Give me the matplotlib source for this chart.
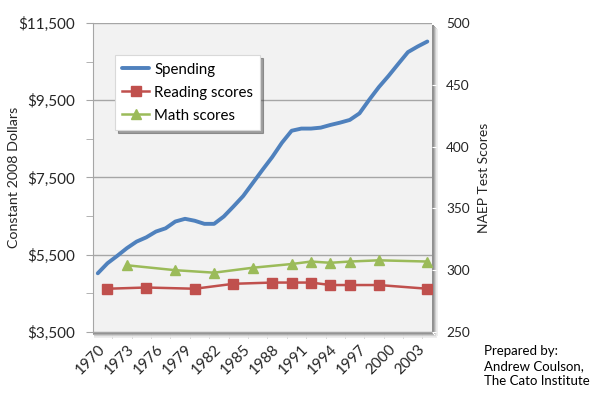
import matplotlib
matplotlib.use('Agg')
import matplotlib.pyplot as plt
from matplotlib.ticker import FixedLocator, MultipleLocator, FuncFormatter

plt.rcParams['font.family'] = ['Lato', 'DejaVu Sans']

# Spending per pupil, constant 2008 dollars
spend_years = list(range(1970, 2005))
spending = [5020, 5280, 5470, 5670, 5840, 5950, 6100, 6185, 6360, 6430,
            6380, 6300, 6300, 6490, 6750, 7020, 7360, 7700, 8030, 8400,
            8710, 8766, 8766, 8790, 8860, 8920, 8990, 9160, 9510, 9840,
            10130, 10440, 10745, 10890, 11020]

# NAEP long-term trend, age 17
reading_years = [1971, 1975, 1980, 1984, 1988, 1990, 1992, 1994, 1996, 1999, 2004]
reading = [285, 286, 285, 289, 290, 290, 290, 288, 288, 288, 285]

math_years = [1973, 1978, 1982, 1986, 1990, 1992, 1994, 1996, 1999, 2004]
math_scores = [304, 300, 298, 302, 305, 307, 306, 307, 308, 307]

tick_years = list(range(1970, 2004, 3))
dollar_ticks = [3500, 5500, 7500, 9500, 11500]
dollar_minor = [4500, 6500, 8500, 10500]

blue = '#4F81BD'
red = '#C0504D'
green = '#9BBB59'

fig = plt.figure(figsize=(5.92, 3.96), dpi=100)
ax = fig.add_axes([0.157, 0.1616, 0.573, 0.7804])
ax2 = ax.twinx()

x0 = 1970
ax.set_facecolor('#F2F2F2')
ax.set_xlim(-0.5, 34.5)
ax.set_ylim(3500, 11500)
ax2.set_ylim(250, 500)

ax.yaxis.set_major_locator(FixedLocator(dollar_ticks))
ax.yaxis.set_minor_locator(FixedLocator(dollar_minor))
ax.yaxis.set_major_formatter(FuncFormatter(lambda v, p: '${:,.0f}'.format(v)))
ax.grid(axis='y', which='major', color='#A6A6A6', lw=1)
ax.set_axisbelow(True)

ax.xaxis.set_major_locator(FixedLocator([y - x0 for y in tick_years]))
ax.set_xticklabels([str(y) for y in tick_years], rotation=45, ha='right',
                   rotation_mode='anchor')
ax.xaxis.set_minor_locator(FixedLocator([k - 0.5 for k in range(2, 35, 2)]))
ax.tick_params(axis='x', which='major', length=0, pad=7, labelsize=11, colors='#262626')
ax.tick_params(axis='x', which='minor', length=4, color='#A6A6A6')
ax.tick_params(axis='y', which='both', length=5, color='#A6A6A6', labelsize=11,
               labelcolor='#262626', pad=8)
ax2.yaxis.set_major_locator(MultipleLocator(50))
ax2.tick_params(axis='y', length=3, color='white', labelsize=9.8, labelcolor='#262626',
                pad=7)

for a in (ax, ax2):
    a.spines['top'].set_visible(False)
ax.spines['left'].set_color('#A6A6A6')
ax.spines['bottom'].set_color('#A6A6A6')
ax.spines['right'].set_visible(False)
ax2.spines['left'].set_visible(False)
ax2.spines['bottom'].set_visible(False)
ax2.spines['right'].set_visible(False)

# soft shadow along bottom and right edges
for i, c in enumerate(['#7A7A7A', '#969696', '#B3B3B3', '#D2D2D2', '#EBEBEB']):
    ax.plot([-0.5 + 0.03 * i, 34.5 + 0.12 * i], [3500 - 26 * (i + 0.5)] * 2,
            color=c, lw=1.2, clip_on=False, zorder=1, solid_capstyle='butt')
    ax.plot([34.5 + 0.1 * (i + 0.5)] * 2, [11450 - 26 * i, 3500 - 26 * i],
            color=c, lw=1.2, clip_on=False, zorder=1, solid_capstyle='butt')

l1, = ax.plot([y - x0 for y in spend_years], spending, color=blue, lw=2.8,
              label='Spending', zorder=5, solid_capstyle='round')
l2, = ax2.plot([y - x0 for y in reading_years], reading, color=red, lw=1.8,
               marker='s', markersize=7.5, label='Reading scores', zorder=4)
l3, = ax2.plot([y - x0 for y in math_years], math_scores, color=green, lw=1.8,
               marker='^', markersize=7.5, label='Math scores', zorder=4)

leg = ax2.legend(handles=[l1, l2, l3], loc='upper left', bbox_to_anchor=(0.065, 0.896),
                 fontsize=10.8, frameon=True, fancybox=False, shadow=True,
                 edgecolor='#D9D9D9', handlelength=1.8, handletextpad=0.3,
                 borderpad=0.5, labelspacing=0.6, borderaxespad=0)
leg.get_frame().set_linewidth(0.8)

ax.set_ylabel('Constant 2008 Dollars', fontsize=10.3, color='#262626')
ax.yaxis.set_label_coords(-0.215, 0.5)
ax2.set_ylabel('NAEP Test Scores', fontsize=10, color='#262626')
ax2.yaxis.set_label_coords(1.136, 0.5)

fig.text(0.818, 0.128, 'Prepared by:\nAndrew Coulson,\nThe Cato Institute',
         fontsize=9.5, color='#000000', va='top', ha='left', linespacing=1.3)

fig.savefig('out.png', dpi=100)
